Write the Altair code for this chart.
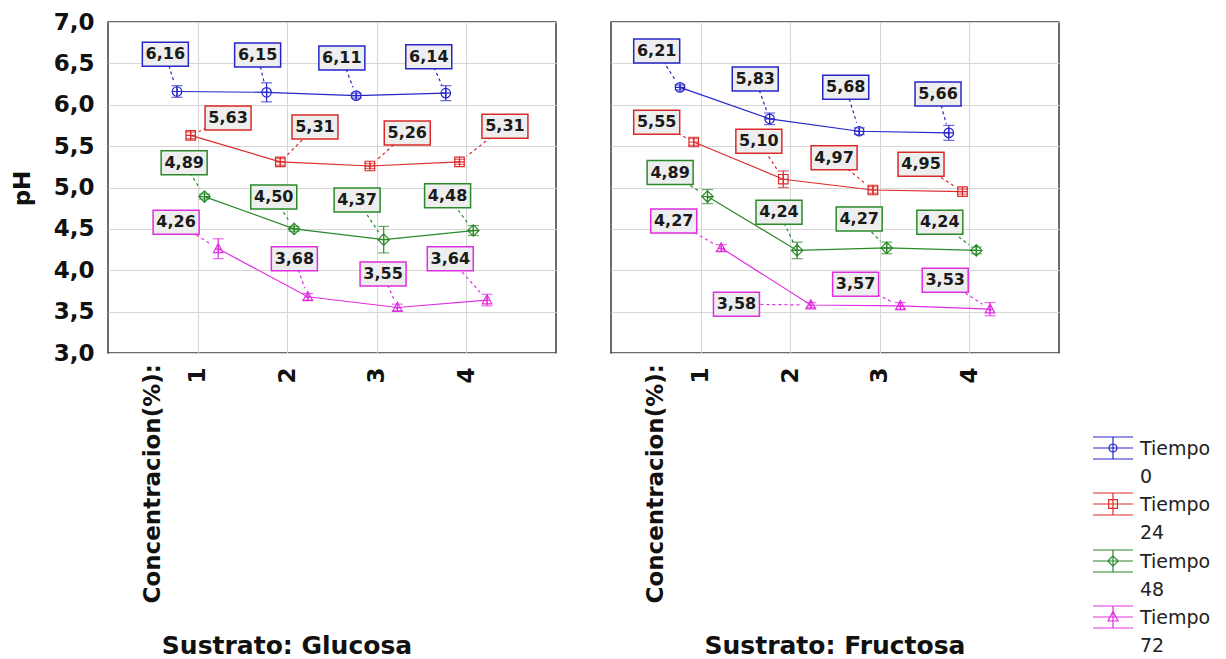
import math
import altair as alt
import pandas as pd

# ---------------- data ----------------
concentracion = [1, 2, 3, 4]
tiempos = ["0", "24", "48", "72"]
series = ["Tiempo 0", "Tiempo 24", "Tiempo 48", "Tiempo 72"]
colors = ["#2626c8", "#dc2a2a", "#2a8a2a", "#e02ee0"]

# Sustrato: Glucosa (pH means)
glu_t0 = [6.16, 6.15, 6.11, 6.14]
glu_t24 = [5.63, 5.31, 5.26, 5.31]
glu_t48 = [4.89, 4.50, 4.37, 4.48]
glu_t72 = [4.26, 3.68, 3.55, 3.64]
# error bar half-widths
glu_err_t0 = [0.07, 0.115, 0.03, 0.09]
glu_err_t24 = [0.04, 0.04, 0.03, 0.03]
glu_err_t48 = [0.03, 0.03, 0.16, 0.06]
glu_err_t72 = [0.12, 0.04, 0.04, 0.07]

# Sustrato: Fructosa
fru_t0 = [6.21, 5.83, 5.68, 5.66]
fru_t24 = [5.55, 5.10, 4.97, 4.95]
fru_t48 = [4.89, 4.24, 4.27, 4.24]
fru_t72 = [4.27, 3.58, 3.57, 3.53]
fru_err_t0 = [0.03, 0.07, 0.04, 0.09]
fru_err_t24 = [0.04, 0.10, 0.04, 0.03]
fru_err_t48 = [0.085, 0.10, 0.07, 0.04]
fru_err_t72 = [0.04, 0.03, 0.04, 0.08]

# value-label anchor positions (data units) for callout boxes
glu_lab_x = [[0.64, 1.67, 2.61, 3.58], [1.34, 2.31, 3.34, 4.43],
             [0.85, 1.85, 2.78, 3.79], [0.76, 2.08, 3.07, 3.82]]
glu_lab_y = [[6.61, 6.60, 6.565, 6.58], [5.84, 5.73, 5.66, 5.74],
             [5.30, 4.885, 4.85, 4.90], [4.58, 4.14, 3.955, 4.14]]
fru_lab_x = [[0.51, 1.61, 2.62, 3.65], [0.51, 1.65, 2.49, 3.46],
             [0.66, 1.875, 2.77, 3.67], [0.70, 1.40, 2.73, 3.73]]
fru_lab_y = [[6.65, 6.31, 6.21, 6.13], [5.79, 5.56, 5.36, 5.28],
             [5.18, 4.70, 4.62, 4.58], [4.595, 3.59, 3.83, 3.88]]

eje_x_nota = "Concentracion(%):"
titulo_glu = "Sustrato: Glucosa"
titulo_fru = "Sustrato: Fructosa"
y_titulo = "pH"

# ---------------- layout constants ----------------
W, H = 448, 331
dodge = [-0.23, -0.077, 0.077, 0.23]
FONT = "DejaVu Sans"

marker_paths = [
    "M-1,0A1,1 0 1,1 1,0A1,1 0 1,1 -1,0ZM-1,0H1M0,-1V1",
    "M-1,-1H1V1H-1ZM-1,0H1M0,-1V1",
    "M0,-1.2L1.2,0L0,1.2L-1.2,0ZM-1.2,0H1.2M0,-1.2V1.2",
    "M0,-1.1L1,0.8H-1ZM-0.6,0.1H0.6M0,-1.1V0.8",
]
legend_paths = [
    "M-1,-0.55H1M-1,0.55H1M-1,0H1M0,-0.55V0.55M-0.2,0A0.2,0.2 0 1,1 0.2,0A0.2,0.2 0 1,1 -0.2,0",
    "M-1,-0.55H1M-1,0.55H1M-1,0H1M0,-0.55V0.55M-0.22,-0.22H0.22V0.22H-0.22Z",
    "M-1,-0.55H1M-1,0.55H1M-1,0H1M0,-0.55V0.55M0,-0.26L0.26,0L0,0.26L-0.26,0Z",
    "M-1,-0.55H1M-1,0.55H1M-1,0H1M0,-0.55V0.55M0,-0.28L0.25,0.2H-0.25Z",
]


def build(vals, errs, lab_x, lab_y):
    sx, sy = W / 5.0, H / 4.0
    gap = 9.0
    rows = []
    for si, s in enumerate(series):
        for ci, c in enumerate(concentracion):
            v = vals[si][ci]
            e = errs[si][ci]
            xp = c + dodge[si]
            lx, ly = lab_x[si][ci], lab_y[si][ci]
            dxp, dyp = (lx - xp) * sx, (ly - v) * sy
            d = math.hypot(dxp, dyp)
            rows.append(dict(
                serie=s, conc=c, xpos=xp, ph=v, lo=v - e, hi=v + e,
                lx=lx, ly=ly,
                ex=xp + dxp / d * gap / sx, ey=v + dyp / d * gap / sy,
                txt=f"{v:.2f}".replace(".", ","),
            ))
    return pd.DataFrame(rows)


df_glu = build([glu_t0, glu_t24, glu_t48, glu_t72],
               [glu_err_t0, glu_err_t24, glu_err_t48, glu_err_t72],
               glu_lab_x, glu_lab_y)
df_fru = build([fru_t0, fru_t24, fru_t48, fru_t72],
               [fru_err_t0, fru_err_t24, fru_err_t48, fru_err_t72],
               fru_lab_x, fru_lab_y)

XS = alt.Scale(domain=[0, 5], nice=False, zero=False)
YS = alt.Scale(domain=[3, 7], nice=False, zero=False)

xaxis = alt.Axis(values=concentracion, grid=True, ticks=False, domain=False,
                 labelAngle=270, labelAlign="right", labelBaseline="middle",
                 labelFont=FONT, labelFontWeight="bold", labelFontSize=23,
                 labelColor="#111111", labelPadding=14, title=None)
yvals = [3.0, 3.5, 4.0, 4.5, 5.0, 5.5, 6.0, 6.5, 7.0]


def yaxis(show):
    if show:
        return alt.Axis(values=yvals, grid=True, ticks=False, domain=False,
                        labelExpr="replace(format(datum.value, '.1f'), '.', ',')",
                        labelFont=FONT, labelFontWeight="bold", labelFontSize=23,
                        labelColor="#111111", labelPadding=14,
                        title=y_titulo, titleFont=FONT, titleFontWeight="bold",
                        titleFontSize=23, titleColor="#111111", titleAngle=270,
                        titleX=-86, titleY=166, titleAlign="center",
                        titleBaseline="middle")
    return alt.Axis(values=yvals, grid=True, ticks=False, domain=False,
                    labels=False, title=None)


cscale = alt.Scale(domain=series, range=colors)


def panel(df, show_y, titulo, titulo_x, with_legend):
    ya = yaxis(show_y)

    def X(f):
        return alt.X(f"{f}:Q", scale=XS, axis=xaxis)

    def Y(f):
        return alt.Y(f"{f}:Q", scale=YS, axis=ya)

    col = alt.Color("serie:N", scale=cscale, legend=None)
    base = alt.Chart(df)
    lines = base.mark_line(strokeWidth=1.2).encode(x=X("xpos"), y=Y("ph"), color=col)
    err = base.mark_rule(strokeWidth=1.2).encode(x=X("xpos"), y=Y("lo"), y2="hi", color=col)
    cap_lo = base.mark_tick(orient="horizontal", size=11, thickness=1.2).encode(
        x=X("xpos"), y=Y("lo"), color=col)
    cap_hi = base.mark_tick(orient="horizontal", size=11, thickness=1.2).encode(
        x=X("xpos"), y=Y("hi"), color=col)
    pts = base.mark_point(filled=False, size=90, strokeWidth=1.2, opacity=1).encode(
        x=X("xpos"), y=Y("ph"), color=col,
        shape=alt.Shape("serie:N", scale=alt.Scale(domain=series, range=marker_paths), legend=None))
    leaders = base.mark_rule(strokeDash=[3, 3], strokeWidth=1.2).encode(
        x=X("lx"), y=Y("ly"), x2="ex", y2="ey", color=col)
    boxes = base.mark_rect(fill="#eeeeee", strokeWidth=1.5, xOffset=-23, x2Offset=23,
                           yOffset=-12, y2Offset=12).encode(
        x=X("lx"), x2="lx", y=Y("ly"), y2="ly",
        stroke=alt.Stroke("serie:N", scale=cscale, legend=None))
    texts = base.mark_text(font=FONT, fontWeight="bold", fontSize=16, color="#1a1a1a").encode(
        x=X("lx"), y=Y("ly"), text="txt:N")

    nota = alt.Chart(pd.DataFrame({"t": [eje_x_nota]})).mark_text(
        font=FONT, fontWeight="bold", fontSize=23, angle=270, align="right",
        baseline="middle", color="#111111").encode(
        text="t:N", x=alt.value(45), y=alt.value(H + 11))
    tit = alt.Chart(pd.DataFrame({"t": [titulo]})).mark_text(
        font=FONT, fontWeight="bold", fontSize=25, align="center",
        baseline="middle", color="#111111").encode(
        text="t:N", x=alt.value(titulo_x), y=alt.value(624))

    layers = [lines, err, cap_lo, cap_hi, pts, leaders, boxes, texts, nota, tit]

    if with_legend:
        sym_y = [426, 482, 539, 595]
        for i, s in enumerate(series):
            ld = pd.DataFrame({"t": ["Tiempo\n" + tiempos[i]]})
            layers.append(alt.Chart(ld).mark_point(
                shape=legend_paths[i], size=1600, filled=False, strokeWidth=1.2,
                opacity=1, color=colors[i]).encode(
                x=alt.value(502), y=alt.value(sym_y[i])))
            layers.append(alt.Chart(ld).mark_text(
                font=FONT, fontSize=19, align="left", baseline="middle",
                lineBreak="\n", lineHeight=28, color="#222222").encode(
                text="t:N", x=alt.value(529), y=alt.value(sym_y[i] + 1)))

    return alt.layer(*layers).properties(width=W, height=H)


p1 = panel(df_glu, True, titulo_glu, 179, False)
p2 = panel(df_fru, False, titulo_fru, 224, True)

chart = alt.hconcat(p1, p2, spacing=53).properties(
    padding={"left": 2, "top": 2, "right": 2, "bottom": 0},
    background="white",
).configure_view(
    stroke="#3c3c3c", strokeWidth=1.5
).configure_axis(
    gridColor="#d6d6d6", gridWidth=1
)

chart.save("out.html", embed_options={"renderer": "svg", "actions": False})
